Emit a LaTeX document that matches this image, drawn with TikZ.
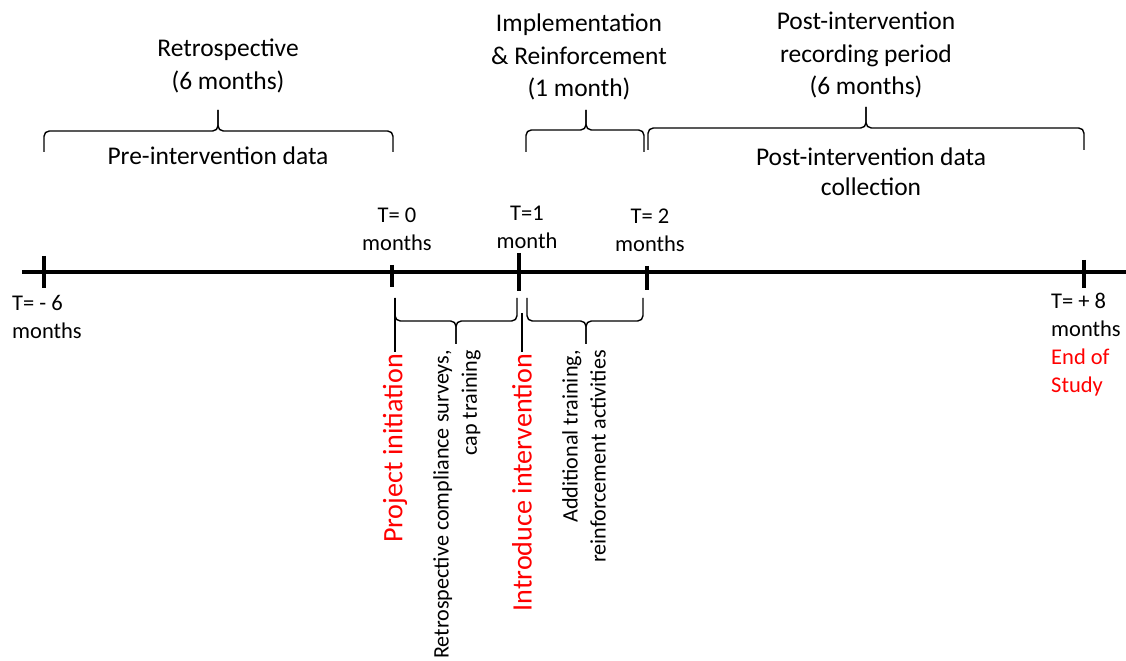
\documentclass[tikz,border=0pt]{standalone}
\usepackage{fontspec}
\setmainfont{Carlito}
% brace opening downwards / upwards: (x left:x right:y ends)(y bar:x tip:y tip)
\def\spanbrace(#1:#2:#3)(#4:#5:#6){%
	\draw[braceline] (#1,#3) |- (#5,#4) -- (#5,#6);
	\draw[braceline] (#2,#3) |- (#5,#4) -- (#5,#6);}

\begin{document}
\begin{tikzpicture}[x=0.02cm, y=-0.02cm,
	axisline/.style={line width=2.2pt},
	tickmark/.style={line width=2.8pt},
	braceline/.style={line width=0.8pt, rounded corners=3pt},
	toplabel/.style={font=\fontsize{14.5}{18.7}\selectfont, align=center},
	timelabel/.style={font=\fontsize{12.8}{15.9}\selectfont, align=center},
	eventlabel/.style={font=\fontsize{16}{19}\selectfont, text=red, rotate=90, anchor=east, inner sep=1pt},
	notelabel/.style={font=\fontsize{12.6}{16}\selectfont, rotate=90, anchor=east, align=right, inner sep=1pt}]
		%%%%% START %%%%%
		\useasboundingbox (0,0) rectangle (1126,661);
		
		% time axis
		\coordinate (axisL) at (22,272);
		\coordinate (axisR) at (1126,272);
		\draw[axisline] (axisL) -- (axisR);
		\foreach \x/\a/\b in {44/256/288, 392/265/287, 519/253/291, 647/266/290, 1084/260/288}
			\draw[tickmark] (\x,\a) -- (\x,\b);
		
		% time labels
		\node[timelabel, align=left, anchor=west] (tminus6) at (6,317) {T= - 6\\months};
		\node[timelabel] (tzero) at (397,229) {T= 0\\months};
		\node[timelabel] (tone) at (527,227) {T=1\\month};
		\node[timelabel] (ttwo) at (650,230) {T= 2\\months};
		\node[timelabel, align=left, anchor=west] (teight) at (1045,345) {T= + 8\\months\\\textcolor{red}{End of}\\\textcolor{red}{Study}};
		
		% periods above the axis
		\spanbrace(44:393:152)(131:218:110)
		\spanbrace(526:644:152)(130:586:110)
		\spanbrace(648:1084:150)(128:866:107)
		
		\node[toplabel] (retro) at (228,66) {Retrospective\\(6 months)};
		\node[toplabel] (predata) at (218,156) {Pre-intervention data};
		\node[toplabel] (implement) at (579,57) {Implementation\\\& Reinforcement\\(1 month)};
		\node[toplabel] (postrec) at (866,55) {Post-intervention\\recording period\\(6 months)};
		\node[toplabel, font=\fontsize{14.5}{17}\selectfont] (postdata) at (871,172) {Post-intervention data\\collection};
		
		% events below the axis
		\spanbrace(395:517:298)(321:456:344)
		\spanbrace(527:643:298)(321:586:344)
		
		\node[eventlabel] (init) at (395,352) {Project initiation};
		\node[notelabel] (retrosurvey) at (457,348) {Retrospective compliance surveys,\\cap training};
		\node[eventlabel] (intro) at (522,352) {Introduce intervention};
		\node[notelabel] (addtrain) at (584,348) {Additional training,\\reinforcement activities};
		
		\coordinate (initTop) at (395,298);
		\coordinate (introTop) at (522,313);
		\draw[braceline] (initTop) -- (init.east);
		\draw[braceline] (introTop) -- (intro.east);
		%%%%% END %%%%%
\end{tikzpicture}
\end{document}
